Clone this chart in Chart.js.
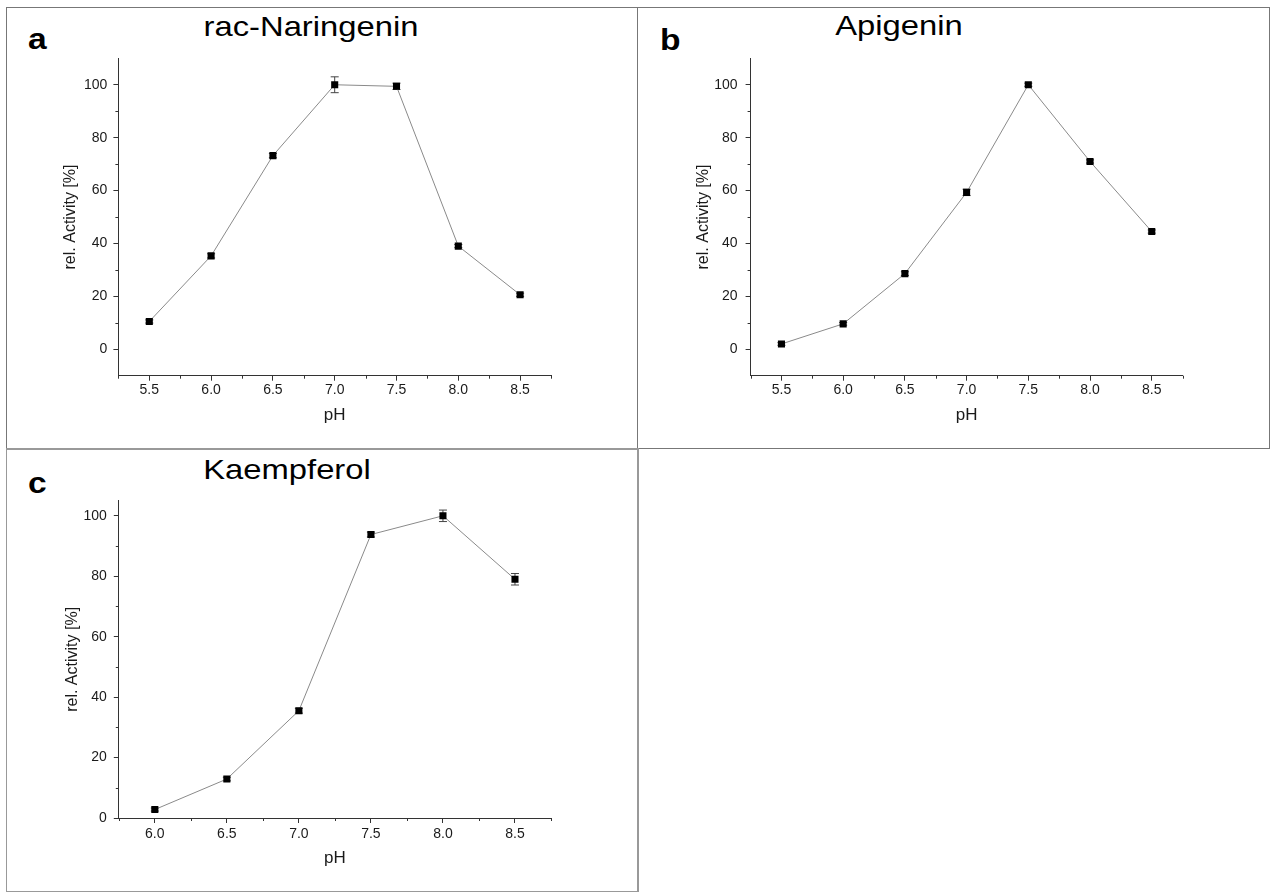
<!DOCTYPE html>
<html lang="en">
<head>
  <meta charset="UTF-8" />
  <script src="https://cdn.jsdelivr.net/npm/chart.js"></script>
  <title>pH profiles</title>
  <style>
    body { margin: 0; background: #fff; width: 1271px; height: 892px; position: relative; overflow: hidden; font-family: "Liberation Sans", Arial, sans-serif; }
    .panel { position: absolute; border: 1px solid #777; box-sizing: border-box; }
    canvas { position: absolute; }
    .title { position: absolute; font-size: 28px; line-height: 1; color: #000; white-space: nowrap; transform: translateX(-50%) scaleX(1.17); }
    .letter { position: absolute; font-size: 30px; font-weight: bold; line-height: 1; color: #000; transform: scaleX(1.12); transform-origin: left; }
  </style>
</head>
<body>
  <div class="panel" style="left:6px;top:7px;width:632px;height:442px;"></div>
  <div class="panel" style="left:637px;top:7px;width:633px;height:442px;"></div>
  <div class="panel" style="left:6px;top:448px;width:633px;height:444px;border-color:#999;border-width:2px 2px 1px 1px;"></div>

  <div class="title" style="left:311px;top:13px;">rac-Naringenin</div>
  <div class="title" style="left:899px;top:12px;">Apigenin</div>
  <div class="title" style="left:287px;top:456px;">Kaempferol</div>
  <div class="letter" style="left:28px;top:24px;">a</div>
  <div class="letter" style="left:660px;top:25px;">b</div>
  <div class="letter" style="left:28px;top:468px;">c</div>

  <canvas id="chartA" width="629" height="439" style="left:7px;top:8px;"></canvas>
  <canvas id="chartB" width="630" height="439" style="left:638px;top:8px;"></canvas>
  <canvas id="chartC" width="631" height="441" style="left:7px;top:449px;"></canvas>

  <script>
    // datos
    const phAB = [5.5, 6.0, 6.5, 7.0, 7.5, 8.0, 8.5];
    const phC = [6.0, 6.5, 7.0, 7.5, 8.0, 8.5];

    const naringenin = [10.5, 35.3, 73.2, 100, 99.4, 39.0, 20.6];
    const naringeninErr = [0.6, 0.8, 0.8, 3.0, 1.2, 0.6, 0.6];

    const apigenin = [2.0, 9.6, 28.6, 59.3, 100, 71.0, 44.5];
    const apigeninErr = [0.5, 0.5, 0.7, 1.2, 0.6, 0.6, 0.6];

    const kaempferol = [2.8, 12.9, 35.5, 93.8, 100, 79.0];
    const kaempferolErr = [0.5, 0.6, 0.8, 0.8, 1.9, 1.9];

    const xTicksAB = [5.5, 6.0, 6.5, 7.0, 7.5, 8.0, 8.5];
    const xTicksC = [6.0, 6.5, 7.0, 7.5, 8.0, 8.5];
    const yTicks = [0, 20, 40, 60, 80, 100];

    const fuente = '"Liberation Sans", Arial, sans-serif';
    const ejeColor = '#333';

    // barras de error y marcas menores
    const extrasPlugin = {
      id: 'extras',
      beforeDatasetsDraw(chart) {
        const ctx = chart.ctx;
        const xs = chart.scales.x, ys = chart.scales.y;
        const ds = chart.data.datasets[0];
        const errs = ds.errores || [];
        ctx.save();
        ctx.strokeStyle = '#444';
        ctx.lineWidth = 1;
        ds.data.forEach((p, i) => {
          const e = errs[i] || 0;
          if (!e) return;
          const px = xs.getPixelForValue(p.x);
          const y1 = ys.getPixelForValue(p.y + e);
          const y2 = ys.getPixelForValue(p.y - e);
          ctx.beginPath();
          ctx.moveTo(px, y1); ctx.lineTo(px, y2);
          ctx.moveTo(px - 4, y1); ctx.lineTo(px + 4, y1);
          ctx.moveTo(px - 4, y2); ctx.lineTo(px + 4, y2);
          ctx.stroke();
        });
        ctx.restore();
      },
      afterDraw(chart) {
        const ctx = chart.ctx;
        const ca = chart.chartArea;
        const xs = chart.scales.x, ys = chart.scales.y;
        ctx.save();
        ctx.strokeStyle = ejeColor;
        ctx.lineWidth = 1;
        ctx.beginPath();
        for (let v = xs.min; v <= xs.max + 1e-9; v += 0.25) {
          if (Math.abs(v * 2 - Math.round(v * 2)) < 1e-6) continue;
          const px = Math.round(xs.getPixelForValue(v)) + 0.5;
          ctx.moveTo(px, ca.bottom); ctx.lineTo(px, ca.bottom + 3);
        }
        for (let v = 10; v < ys.max; v += 20) {
          const py = Math.round(ys.getPixelForValue(v)) + 0.5;
          ctx.moveTo(ca.left - 3, py); ctx.lineTo(ca.left, py);
        }
        ctx.stroke();
        ctx.restore();
      }
    };

    function crearGrafico(id, xs, ys, errs, cfg) {
      const ctx = document.getElementById(id).getContext('2d');
      return new Chart(ctx, {
        type: 'scatter',
        data: {
          datasets: [{
            data: xs.map((x, i) => ({ x: x, y: ys[i] })),
            errores: errs,
            showLine: true,
            borderColor: '#8a8a8a',
            borderWidth: 1,
            pointStyle: 'rect',
            pointRadius: 5,
            pointBackgroundColor: '#000',
            pointBorderColor: '#000',
            pointBorderWidth: 0
          }]
        },
        options: {
          responsive: false,
          animation: false,
          layout: { padding: { top: cfg.padTop, right: cfg.padRight, left: 0, bottom: 0 } },
          plugins: { legend: { display: false }, tooltip: { enabled: false } },
          scales: {
            x: {
              type: 'linear',
              min: cfg.xMin, max: 8.75,
              afterBuildTicks: s => { s.ticks = cfg.xTicks.map(v => ({ value: v })); },
              afterFit: s => { s.height = cfg.xH; },
              ticks: { color: '#1a1a1a', font: { family: fuente, size: 14 }, padding: cfg.xPad, maxRotation: 0, callback: v => v.toFixed(1) },
              grid: { drawOnChartArea: false, drawTicks: true, tickLength: 5, tickColor: ejeColor },
              border: { display: true, color: ejeColor, width: 1 },
              title: { display: true, text: 'pH', color: '#1a1a1a', font: { family: fuente, size: 17 }, padding: { top: 0, bottom: cfg.xTitlePad } }
            },
            y: {
              min: cfg.yMin, max: cfg.yMax,
              afterBuildTicks: s => { s.ticks = yTicks.map(v => ({ value: v })); },
              afterFit: s => { s.width = cfg.yW; },
              ticks: { color: '#1a1a1a', font: { family: fuente, size: 14 }, padding: cfg.yPad },
              grid: { drawOnChartArea: false, drawTicks: true, tickLength: 5, tickColor: ejeColor },
              border: { display: true, color: ejeColor, width: 1 },
              title: { display: true, text: 'rel. Activity [%]', color: '#1a1a1a', font: { family: fuente, size: 16 }, padding: { top: cfg.yTitlePad, bottom: 0 } }
            }
          }
        },
        plugins: [extrasPlugin]
      });
    }

    crearGrafico('chartA', phAB, naringenin, naringeninErr, {
      xMin: 5.25, xTicks: xTicksAB, yMin: -10, yMax: 110,
      padTop: 50.3, padRight: 85, yW: 111.4, xH: 71.3,
      xPad: 1, yPad: 6, xTitlePad: 21.5, yTitlePad: 54.4
    });
    crearGrafico('chartB', phAB, apigenin, apigeninErr, {
      xMin: 5.25, xTicks: xTicksAB, yMin: -10, yMax: 110,
      padTop: 50.3, padRight: 85.4, yW: 112.6, xH: 71.3,
      xPad: 1, yPad: 8, xTitlePad: 21.5, yTitlePad: 56.4
    });
    crearGrafico('chartC', phC, kaempferol, kaempferolErr, {
      xMin: 5.75, xTicks: xTicksC, yMin: 0, yMax: 105,
      padTop: 51.7, padRight: 87, yW: 111.8, xH: 72,
      xPad: 3, yPad: 7, xTitlePad: 21, yTitlePad: 55.9
    });
  </script>
</body>
</html>
